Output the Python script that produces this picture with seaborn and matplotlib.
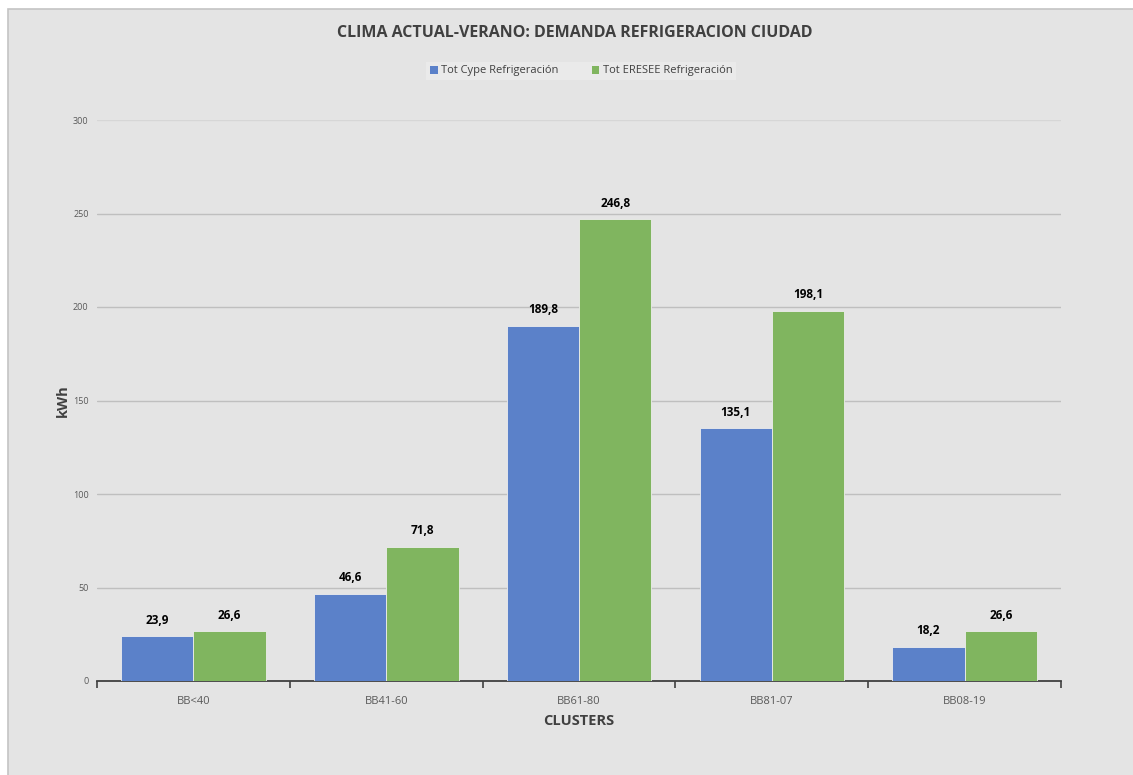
import matplotlib
matplotlib.use("Agg")
import matplotlib.pyplot as plt
import matplotlib.patches as mpatches
import seaborn as sns
import pandas as pd

categories = ["BB<40", "BB41-60", "BB61-80", "BB81-07", "BB08-19"]
cype_values = [23.9, 46.6, 189.8, 135.1, 18.2]
eresee_values = [26.6, 71.8, 246.8, 198.1, 26.6]
series_names = ["Tot Cype Refrigeración", "Tot ERESEE Refrigeración"]
y_ticks = [0, 50, 100, 150, 200, 250, 300]

colors = ["#5B81C9", "#80B55F"]
bg = "#E4E4E4"

sns.set_theme(style="white")
plt.rcParams["font.family"] = ["Open Sans", "DejaVu Sans"]

df = pd.DataFrame({
    "cluster": categories * 2,
    "serie": [series_names[0]] * len(categories) + [series_names[1]] * len(categories),
    "valor": cype_values + eresee_values,
})

fig = plt.figure(figsize=(11.33, 7.75), dpi=100)
fig.patch.set_facecolor("white")
# grey chart panel
fig.add_artist(mpatches.Rectangle((8 / 1133, -0.05), 1.1, 1 - 9 / 775 + 0.05,
                                  transform=fig.transFigure, facecolor=bg,
                                  edgecolor="#C4C4C4", linewidth=1.2, zorder=-10))

ax = fig.add_axes([97 / 1133, 1 - 681 / 775, 964 / 1133, 561 / 775])
ax.set_facecolor(bg)

sns.barplot(data=df, x="cluster", y="valor", hue="serie", order=categories,
            hue_order=series_names, palette=colors, width=0.75, gap=0,
            saturation=1, linewidth=0.6, edgecolor="#EDEDED", ax=ax, legend=False,
            zorder=3)

for cont in ax.containers:
    labels = [f"{v:.1f}".replace(".", ",") for v in cont.datavalues]
    ax.bar_label(cont, labels=labels, padding=7, fontsize=8.5, fontweight="bold",
                 color="black")

ax.set_xlim(-0.5, len(categories) - 0.5)
ax.set_ylim(0, 300)
ax.set_yticks(y_ticks)
ax.set_yticklabels([str(t) for t in y_ticks], fontsize=6.5, color="#595959")
ax.grid(axis="y", color="#BFBFBF", linewidth=1.0, zorder=0)
ax.set_axisbelow(True)
for gl in ax.get_ygridlines()[-1:]:
    gl.set_color("#D6D6D6")

for s in ["top", "right", "left"]:
    ax.spines[s].set_visible(False)
ax.spines["bottom"].set_color("#404040")
ax.spines["bottom"].set_linewidth(1.3)

# ticks at category boundaries
ax.set_xticks([i - 0.5 for i in range(len(categories) + 1)], minor=False)
ax.set_xticklabels([])
ax.tick_params(axis="x", which="major", bottom=True, length=5, width=1.2,
               color="#404040", direction="out")
ax.set_xticks(range(len(categories)), minor=True)
ax.set_xticklabels(categories, minor=True, fontsize=8, color="#595959")
ax.tick_params(axis="x", which="minor", bottom=True, length=0, pad=11)
ax.tick_params(axis="y", length=0, pad=6)

ax.set_xlabel("CLUSTERS", fontsize=10.5, fontweight="bold", color="#404040", labelpad=5)
ax.set_ylabel("kWh", fontsize=10.5, fontweight="bold", color="#404040", labelpad=2)

fig.text(575 / 1133, 1 - 33 / 775, "CLIMA ACTUAL-VERANO: DEMANDA REFRIGERACION CIUDAD",
         ha="center", va="center", fontsize=11.5, fontweight="bold", color="#404040")

handles = [mpatches.Patch(facecolor=c, edgecolor="none") for c in colors]
leg = fig.legend(handles, series_names, loc="center", ncol=2,
                 bbox_to_anchor=(581 / 1133, 1 - 71 / 775), frameon=True,
                 fontsize=8, handlelength=0.7, handleheight=0.7, handletextpad=0.3,
                 columnspacing=3.0, borderpad=0.35, fancybox=False)
leg.get_frame().set_facecolor("#ECECEC")
leg.get_frame().set_edgecolor("none")
for t in leg.get_texts():
    t.set_color("#404040")

fig.savefig("out.png", dpi=100, facecolor=fig.get_facecolor())
